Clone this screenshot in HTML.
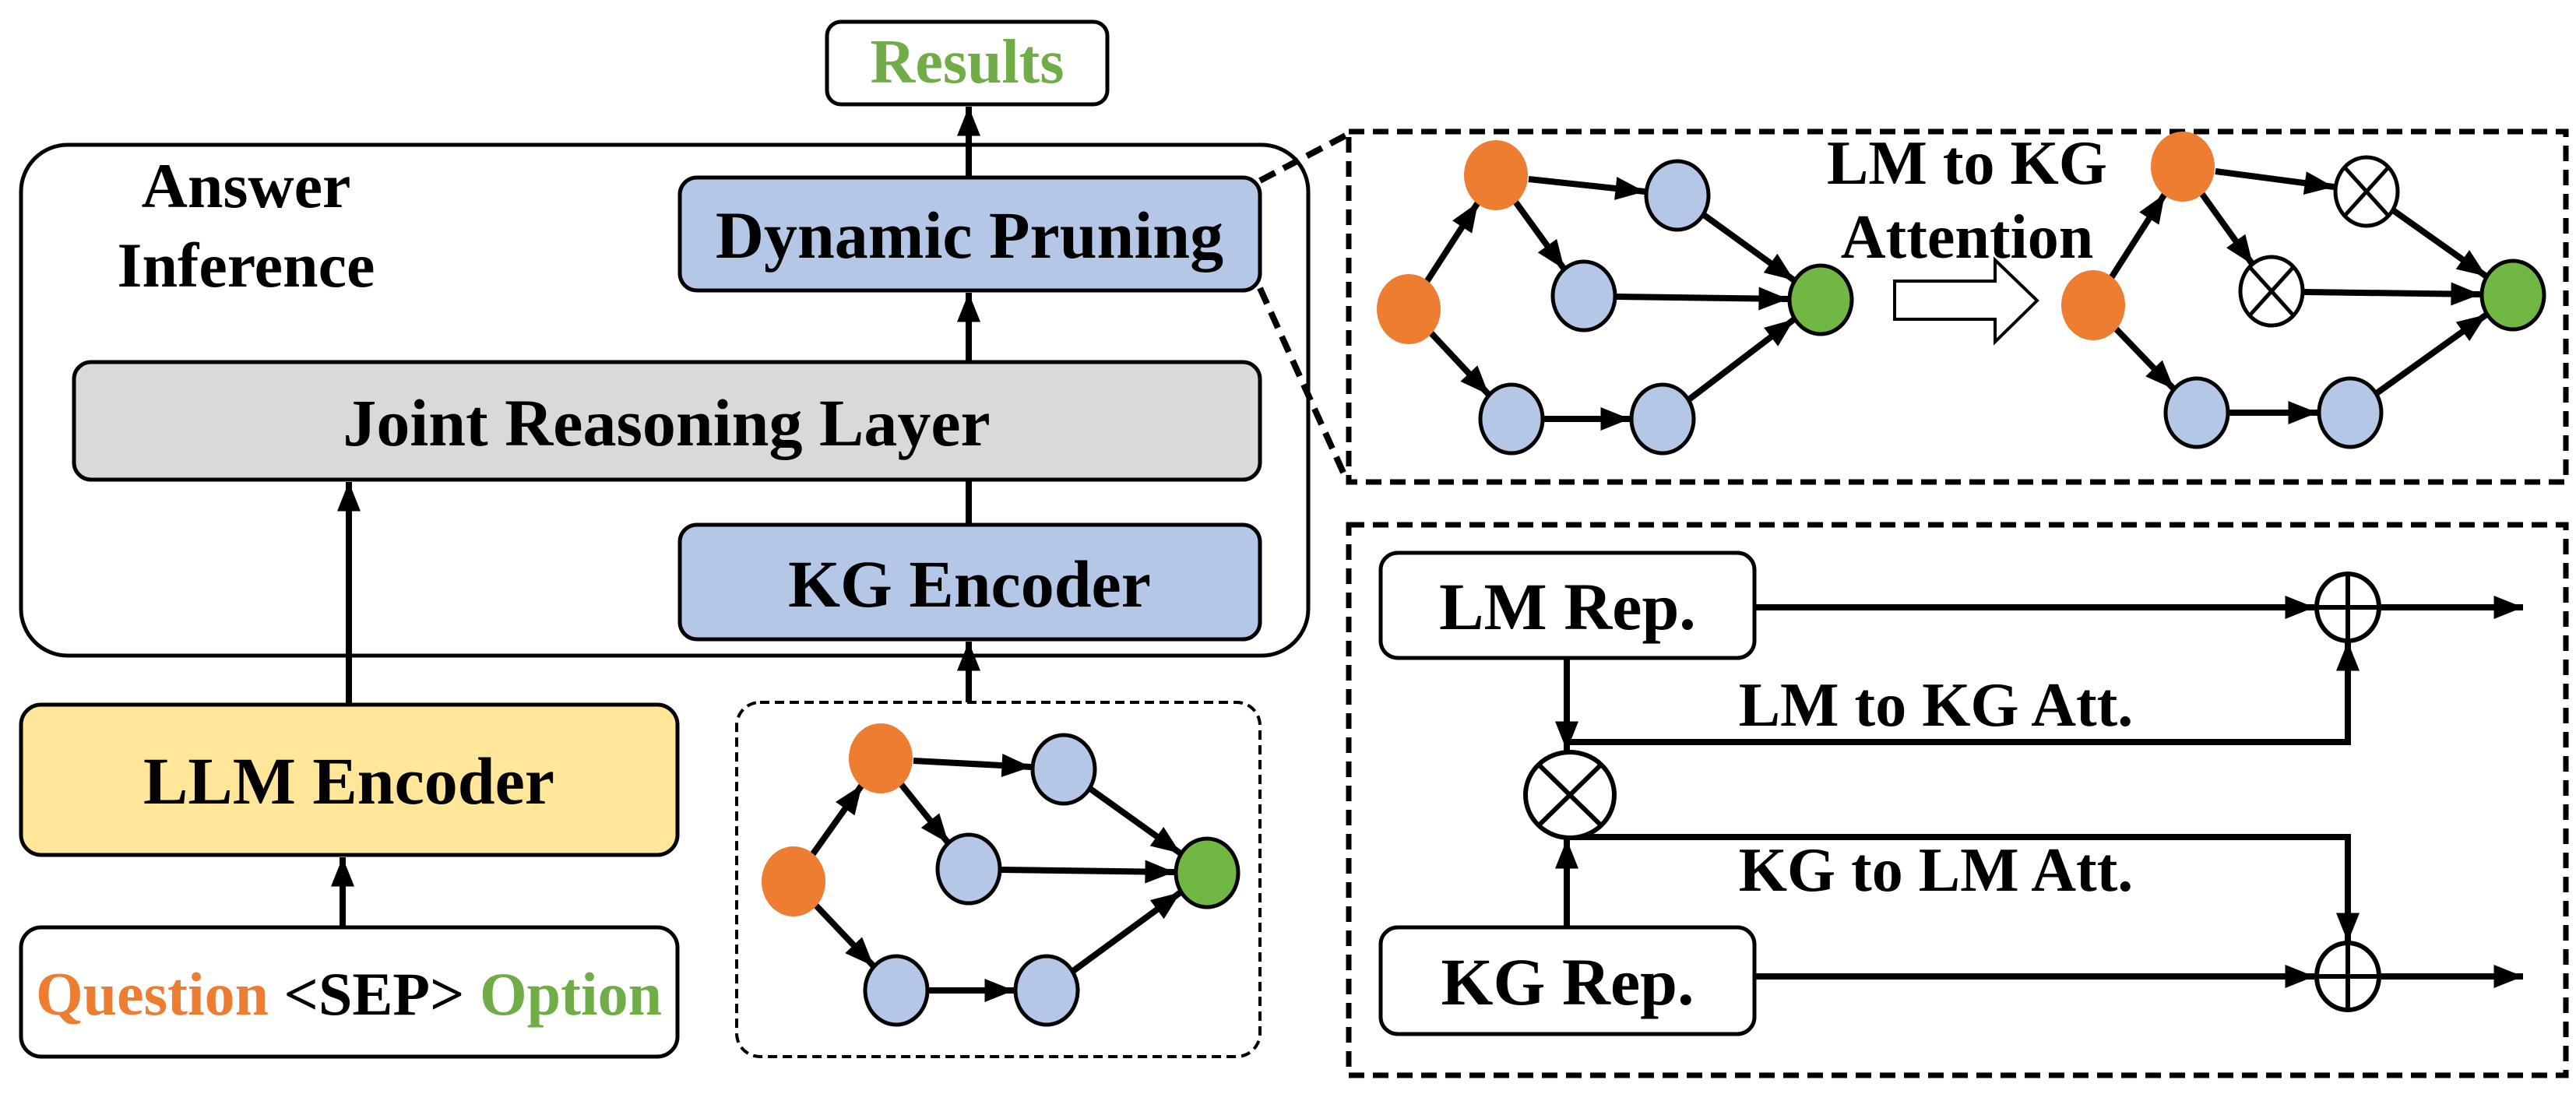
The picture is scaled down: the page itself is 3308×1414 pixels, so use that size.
<!DOCTYPE html>
<html><head><meta charset="utf-8"><style>
html,body{margin:0;padding:0;background:#fff;}
svg{display:block;}
text{font-family:"Liberation Serif","DejaVu Serif",serif;font-weight:bold;}
</style></head><body>
<svg width="3308" height="1414" viewBox="0 0 3308 1414" xmlns="http://www.w3.org/2000/svg">
<defs>
<marker id="ah" viewBox="0 0 10 8" markerUnits="userSpaceOnUse" markerWidth="38" markerHeight="30" refX="10" refY="4" orient="auto">
<path d="M0,0 L10,4 L0,8 z" fill="#000"/></marker>
</defs>

<rect x="1062" y="28" width="360" height="106" rx="18" fill="#fff" stroke="#000" stroke-width="5"/>
<text x="1242" y="106" font-size="80" fill="#70ad47" text-anchor="middle">Results</text>

<rect x="27" y="186" width="1653" height="656" rx="60" fill="#fff" stroke="#000" stroke-width="5"/>
<text x="316" y="266" font-size="82" text-anchor="middle">Answer</text>
<text x="316" y="368" font-size="82" text-anchor="middle">Inference</text>

<rect x="873" y="228" width="745" height="145" rx="22" fill="#b4c7e7" stroke="#000" stroke-width="5"/>
<text x="1245" y="331" font-size="86" text-anchor="middle">Dynamic Pruning</text>

<rect x="95" y="465" width="1523" height="151" rx="22" fill="#d9d9d9" stroke="#000" stroke-width="5"/>
<text x="856" y="572" font-size="86" text-anchor="middle">Joint Reasoning Layer</text>

<rect x="873" y="674" width="745" height="147" rx="22" fill="#b4c7e7" stroke="#000" stroke-width="5"/>
<text x="1245" y="779" font-size="86" text-anchor="middle">KG Encoder</text>

<rect x="27" y="905" width="843" height="193" rx="26" fill="#ffe699" stroke="#000" stroke-width="5"/>
<text x="448" y="1032" font-size="86" text-anchor="middle">LLM Encoder</text>

<rect x="27" y="1191" width="843" height="166" rx="26" fill="#fff" stroke="#000" stroke-width="5"/>
<text x="448" y="1303" font-size="78" text-anchor="middle"><tspan fill="#ed7d31">Question</tspan> &lt;SEP&gt; <tspan fill="#70ad47">Option</tspan></text>

<rect x="946" y="902" width="672" height="455" rx="30" fill="none" stroke="#000" stroke-width="4" stroke-dasharray="12,7"/>

<g stroke="#000" stroke-width="8" fill="none">
<line x1="1244" y1="226" x2="1244" y2="137" marker-end="url(#ah)"/>
<line x1="1244" y1="465" x2="1244" y2="376" marker-end="url(#ah)"/>
<line x1="1244" y1="674" x2="1244" y2="616"/>
<line x1="1244" y1="902" x2="1244" y2="824" marker-end="url(#ah)"/>
<line x1="448" y1="905" x2="448" y2="619" marker-end="url(#ah)"/>
<line x1="440" y1="1191" x2="440" y2="1101" marker-end="url(#ah)"/>
</g>

<g stroke="#000" stroke-width="8" stroke-dasharray="22,12" fill="none">
<line x1="1618" y1="232" x2="1730" y2="173"/>
<line x1="1618" y1="370" x2="1730" y2="618"/>
</g>

<g stroke="#000" stroke-width="8" fill="none" marker-end="url(#ah)">
<line x1="1043" y1="1098" x2="1107" y2="1008"/>
<line x1="1173" y1="977" x2="1324" y2="985"/>
<line x1="1157" y1="1007" x2="1218" y2="1083"/>
<line x1="1400" y1="1013" x2="1516" y2="1096"/>
<line x1="1286" y1="1117" x2="1508" y2="1120"/>
<line x1="1048" y1="1163" x2="1122" y2="1241"/>
<line x1="1193" y1="1272" x2="1302" y2="1272"/>
<line x1="1378" y1="1247" x2="1516" y2="1146"/>
</g>
<g stroke="#000" stroke-width="5">
<ellipse cx="1131" cy="974" rx="41" ry="45" fill="#ed7d31" stroke="none"/>
<ellipse cx="1019" cy="1132" rx="41" ry="45" fill="#ed7d31" stroke="none"/>
<ellipse cx="1366" cy="988" rx="40" ry="44" fill="#b4c7e7"/>
<ellipse cx="1244" cy="1116" rx="40" ry="44" fill="#b4c7e7"/>
<ellipse cx="1550" cy="1121" rx="40" ry="44" fill="#70b843"/>
<ellipse cx="1151" cy="1272" rx="40" ry="44" fill="#b4c7e7"/>
<ellipse cx="1344" cy="1272" rx="40" ry="44" fill="#b4c7e7"/>
</g>

<rect x="1732" y="169" width="1563" height="450" fill="none" stroke="#000" stroke-width="7" stroke-dasharray="20,11"/>
<g stroke="#000" stroke-width="8" fill="none" marker-end="url(#ah)">
<line x1="1832" y1="362" x2="1898" y2="260"/>
<line x1="1963" y1="230" x2="2112" y2="246"/>
<line x1="1946" y1="259" x2="2009" y2="346"/>
<line x1="2188" y1="276" x2="2304" y2="360"/>
<line x1="2076" y1="381" x2="2296" y2="384"/>
<line x1="1838" y1="428" x2="1912" y2="507"/>
<line x1="1983" y1="538" x2="2093" y2="538"/>
<line x1="2169" y1="513" x2="2304" y2="410"/>
</g>
<g stroke="#000" stroke-width="5">
<ellipse cx="1921" cy="225" rx="41" ry="45" fill="#ed7d31" stroke="none"/>
<ellipse cx="1809" cy="397" rx="41" ry="45" fill="#ed7d31" stroke="none"/>
<ellipse cx="2154" cy="251" rx="40" ry="44" fill="#b4c7e7"/>
<ellipse cx="2034" cy="380" rx="40" ry="44" fill="#b4c7e7"/>
<ellipse cx="2338" cy="385" rx="40" ry="44" fill="#70b843"/>
<ellipse cx="1941" cy="538" rx="40" ry="44" fill="#b4c7e7"/>
<ellipse cx="2135" cy="538" rx="40" ry="44" fill="#b4c7e7"/>
</g>
<text x="2526" y="236" font-size="80" text-anchor="middle">LM to KG</text>
<text x="2526" y="331" font-size="80" text-anchor="middle">Attention</text>
<path d="M2433,361 L2562,361 L2562,334 L2616,386 L2562,439 L2562,410 L2433,410 Z" fill="#fff" stroke="#000" stroke-width="4"/>

<g stroke="#000" stroke-width="8" fill="none" marker-end="url(#ah)">
<line x1="2711" y1="357" x2="2780" y2="249"/>
<line x1="2845" y1="220" x2="2997" y2="240"/>
<line x1="2827" y1="248" x2="2893" y2="340"/>
<line x1="3073" y1="270" x2="3193" y2="355"/>
<line x1="2959" y1="375" x2="3185" y2="378"/>
<line x1="2717" y1="422" x2="2792" y2="500"/>
<line x1="2863" y1="530" x2="2976" y2="530"/>
<line x1="3052" y1="505" x2="3193" y2="404"/>
</g>
<g stroke="#000" stroke-width="5">
<ellipse cx="2803" cy="214" rx="41" ry="45" fill="#ed7d31" stroke="none"/>
<ellipse cx="2688" cy="392" rx="41" ry="45" fill="#ed7d31" stroke="none"/>
<ellipse cx="3039" cy="246" rx="40" ry="44" fill="#fff"/>
<line x1="3011" y1="215" x2="3067" y2="277"/><line x1="3067" y1="215" x2="3011" y2="277"/>
<ellipse cx="2917" cy="374" rx="40" ry="44" fill="#fff"/>
<line x1="2889" y1="343" x2="2945" y2="405"/><line x1="2945" y1="343" x2="2889" y2="405"/>
<ellipse cx="3227" cy="379" rx="40" ry="44" fill="#70b843"/>
<ellipse cx="2821" cy="530" rx="40" ry="44" fill="#b4c7e7"/>
<ellipse cx="3018" cy="530" rx="40" ry="44" fill="#b4c7e7"/>
</g>

<rect x="1732" y="674" width="1563" height="707" fill="none" stroke="#000" stroke-width="7" stroke-dasharray="20,11"/>
<rect x="1773" y="710" width="480" height="135" rx="22" fill="#fff" stroke="#000" stroke-width="5"/>
<text x="2013" y="808" font-size="86" text-anchor="middle">LM Rep.</text>
<rect x="1773" y="1191" width="480" height="137" rx="22" fill="#fff" stroke="#000" stroke-width="5"/>
<text x="2013" y="1290" font-size="86" text-anchor="middle">KG Rep.</text>

<g stroke="#000" stroke-width="8" fill="none">
<line x1="2253" y1="780" x2="2972" y2="780" marker-end="url(#ah)"/>
<line x1="3058" y1="780" x2="3240" y2="780" marker-end="url(#ah)"/>
<line x1="2253" y1="1254" x2="2972" y2="1254" marker-end="url(#ah)"/>
<line x1="3058" y1="1254" x2="3240" y2="1254" marker-end="url(#ah)"/>
<line x1="2012" y1="845" x2="2012" y2="964" marker-end="url(#ah)"/>
<line x1="2012" y1="1191" x2="2012" y2="1078" marker-end="url(#ah)"/>
<polyline points="2012,953 3015,953 3015,824" marker-end="url(#ah)"/>
<polyline points="2012,1075 3015,1075 3015,1210" marker-end="url(#ah)"/>
</g>
<g stroke="#000" stroke-width="6" fill="#fff">
<ellipse cx="3015" cy="780" rx="40" ry="43"/>
<line x1="2975" y1="780" x2="3055" y2="780"/><line x1="3015" y1="737" x2="3015" y2="823"/>
<ellipse cx="3015" cy="1254" rx="40" ry="43"/>
<line x1="2975" y1="1254" x2="3055" y2="1254"/><line x1="3015" y1="1211" x2="3015" y2="1297"/>
<ellipse cx="2016" cy="1021" rx="57" ry="55"/>
<line x1="1976" y1="982" x2="2056" y2="1060"/><line x1="2056" y1="982" x2="1976" y2="1060"/>
</g>
<text x="2486" y="932" font-size="80" text-anchor="middle">LM to KG Att.</text>
<text x="2486" y="1144" font-size="80" text-anchor="middle">KG to LM Att.</text>
</svg>
</body></html>
